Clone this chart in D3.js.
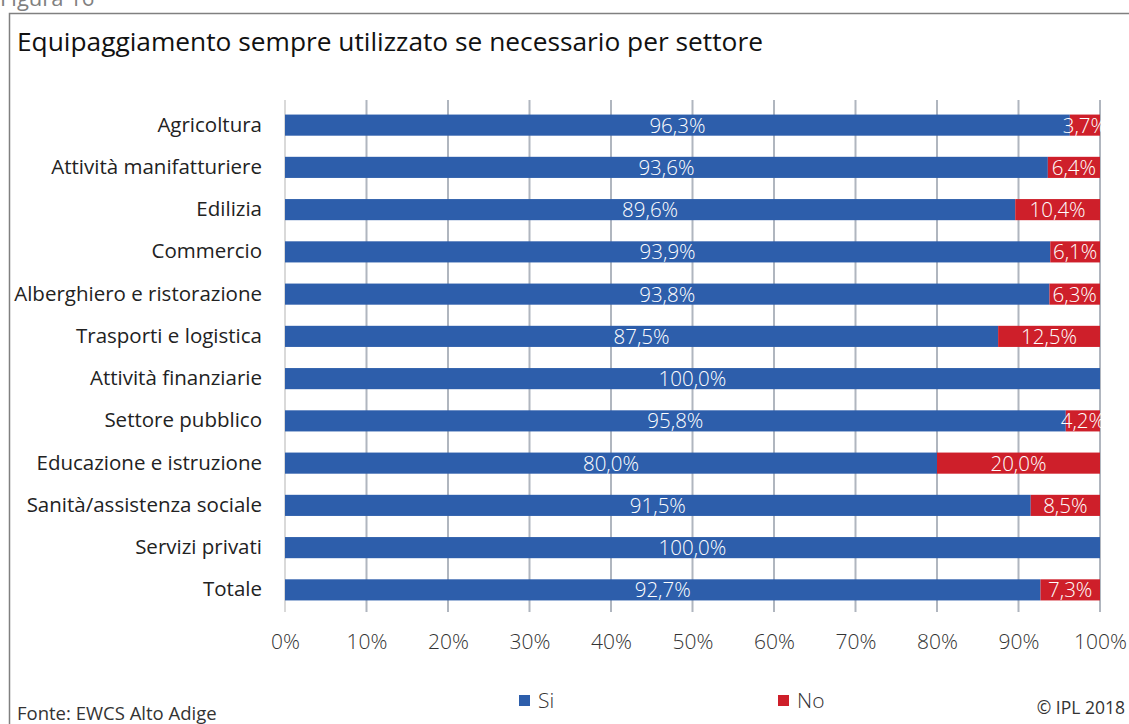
<!DOCTYPE html>
<html><head><meta charset="utf-8">
<script src="https://cdn.jsdelivr.net/npm/d3@7"></script>
<style>body{margin:0;background:#fff;} svg{display:block;}</style>
</head><body>
<script>
const categories = ["Agricoltura","Attività manifatturiere","Edilizia","Commercio","Alberghiero e ristorazione","Trasporti e logistica","Attività finanziarie","Settore pubblico","Educazione e istruzione","Sanità/assistenza sociale","Servizi privati","Totale"];
const siValues = [96.3,93.6,89.6,93.9,93.8,87.5,100.0,95.8,80.0,91.5,100.0,92.7];
const noValues = [3.7,6.4,10.4,6.1,6.3,12.5,0,4.2,20.0,8.5,0,7.3];
const seriesNames = ["Si","No"];
const seriesColors = ["#2D5EAB","#CE1F2A"];
const tickValues = [0,10,20,30,40,50,60,70,80,90,100];

const W=1129,H=724;
const svg=d3.select("body").append("svg").attr("width",W).attr("height",H);
const font="'Open Sans',sans-serif";

// frame
svg.append("path").attr("d",`M9.5,${H} V13.5 H${W}`).attr("fill","none").attr("stroke","#808080").attr("stroke-width",1.5);
svg.append("text").attr("x",0).attr("y",6).attr("font-family",font).attr("font-size",22).attr("fill","#808080").text("Figura 16");

svg.append("text").attr("x",17).attr("y",51).attr("font-family",font).attr("font-size",26.3).attr("fill","#111")
  .text("Equipaggiamento sempre utilizzato se necessario per settore");

const x=d3.scaleLinear().domain([0,100]).range([285,1100]);
const y=d3.scaleBand().domain(categories).range([104,611]).paddingInner(0.5).paddingOuter(0.25);

// gridlines
svg.append("g").selectAll("line").data(tickValues).join("line")
  .attr("x1",d=>x(d)).attr("x2",d=>x(d)).attr("y1",100).attr("y2",612)
  .attr("stroke",(d,i)=>i===0?"#d9d9d9":"#b0b6bf").attr("stroke-width",2);

const rows=categories.map((c,i)=>({c,si:siValues[i],no:noValues[i]}));
const g=svg.append("g");
const fmt=v=>v.toFixed(1).replace(".",",")+"%";
rows.forEach(r=>{
  const yy=y(r.c),h=y.bandwidth();
  g.append("rect").attr("x",x(0)).attr("y",yy).attr("width",x(r.si)-x(0)).attr("height",h).attr("fill",seriesColors[0]);
  if(r.no>0) g.append("rect").attr("x",x(r.si)).attr("y",yy).attr("width",x(100)-x(r.si)).attr("height",h).attr("fill",seriesColors[1]);
  g.append("text").attr("x",(x(0)+x(r.si))/2).attr("y",yy+h/2).attr("dy","0.36em").attr("text-anchor","middle")
    .attr("font-family",font).attr("font-weight",300).attr("font-size",20.5).attr("fill","#fff").text(fmt(r.si));
  if(r.no>0) g.append("text").attr("x",(x(r.si)+x(100))/2).attr("y",yy+h/2).attr("dy","0.36em").attr("text-anchor","middle")
    .attr("font-family",font).attr("font-weight",300).attr("font-size",20.5).attr("fill","#fff").text(fmt(r.no));
});

// category axis
const ya=svg.append("g").attr("transform","translate(262,0)").call(d3.axisLeft(y).tickSize(0).tickPadding(0));
ya.select(".domain").remove();
ya.selectAll("text").attr("font-family",font).attr("font-size",20.5).attr("fill","#222");

// x axis
const xa=svg.append("g").attr("transform","translate(0,634)").call(d3.axisBottom(x).tickValues(tickValues).tickFormat(d=>d+"%").tickSize(0).tickPadding(0));
xa.select(".domain").remove();
xa.selectAll("text").attr("font-family",font).attr("font-weight",300).attr("font-size",21).attr("fill","#333").attr("dy","0.71em");

// legend
const leg=[{n:seriesNames[0],c:seriesColors[0],x:519},{n:seriesNames[1],c:seriesColors[1],x:778}];
leg.forEach(l=>{
  svg.append("rect").attr("x",l.x).attr("y",695).attr("width",11).attr("height",11).attr("fill",l.c);
  svg.append("text").attr("x",l.x+19).attr("y",700).attr("dy","0.36em").attr("font-family",font).attr("font-weight",300).attr("font-size",21).attr("fill","#333").text(l.n);
});
svg.append("text").attr("x",17).attr("y",720).attr("font-family",font).attr("font-size",18.5).attr("fill","#333").text("Fonte: EWCS Alto Adige");
svg.append("text").attr("x",1125).attr("y",714).attr("text-anchor","end").attr("font-family",font).attr("font-size",17.5).attr("fill","#333").text("© IPL 2018");
</script>
</body></html>
